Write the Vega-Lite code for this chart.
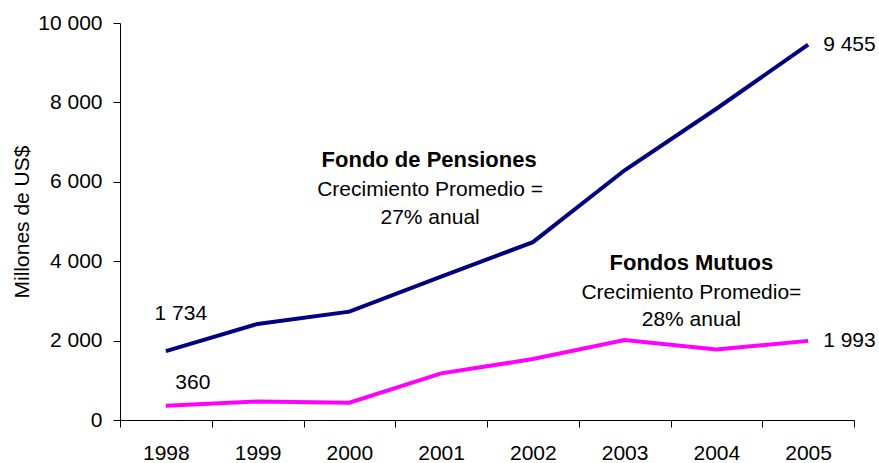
{
  "$schema": "https://vega.github.io/schema/vega-lite/v6.json",
  "width": 734,
  "height": 397,
  "autosize": {"type": "none"},
  "padding": {"left": 120, "top": 23, "right": 25, "bottom": 43},
  "background": "white",
  "config": {
    "view": {"stroke": null},
    "font": "Liberation Sans",
    "axis": {
      "labelFont": "Liberation Sans",
      "titleFont": "Liberation Sans",
      "labelFontSize": 21,
      "titleFontSize": 21,
      "titleFontWeight": "normal",
      "labelColor": "black",
      "titleColor": "black",
      "domainColor": "black",
      "tickColor": "black",
      "grid": false,
      "tickSize": 7
    },
    "text": {"font": "Liberation Sans", "fontSize": 21, "color": "black"}
  },
  "datasets": {
    "series": [
      {"series": "Fondo de Pensiones", "year": "1998", "value": 1734},
      {"series": "Fondo de Pensiones", "year": "1999", "value": 2420},
      {"series": "Fondo de Pensiones", "year": "2000", "value": 2730},
      {"series": "Fondo de Pensiones", "year": "2001", "value": 3610},
      {"series": "Fondo de Pensiones", "year": "2002", "value": 4480},
      {"series": "Fondo de Pensiones", "year": "2003", "value": 6290},
      {"series": "Fondo de Pensiones", "year": "2004", "value": 7840},
      {"series": "Fondo de Pensiones", "year": "2005", "value": 9455},
      {"series": "Fondos Mutuos", "year": "1998", "value": 360},
      {"series": "Fondos Mutuos", "year": "1999", "value": 465},
      {"series": "Fondos Mutuos", "year": "2000", "value": 435},
      {"series": "Fondos Mutuos", "year": "2001", "value": 1175},
      {"series": "Fondos Mutuos", "year": "2002", "value": 1535},
      {"series": "Fondos Mutuos", "year": "2003", "value": 2015},
      {"series": "Fondos Mutuos", "year": "2004", "value": 1775},
      {"series": "Fondos Mutuos", "year": "2005", "value": 1993}
    ],
    "endLabels": [
      {"year": "2005", "value": 9455, "label": "9 455"},
      {"year": "2005", "value": 1993, "label": "1 993"}
    ],
    "notesBold": [
      {"year": "2001", "value": 6550, "text": "Fondo de Pensiones", "group": "p"},
      {"year": "2004", "value": 3955, "text": "Fondos Mutuos", "group": "m"}
    ],
    "notes": [
      {"year": "2001", "value": 5795, "text": "Crecimiento Promedio =", "group": "p"},
      {"year": "2001", "value": 5090, "text": "27% anual", "group": "p"},
      {"year": "2004", "value": 3200, "text": "Crecimiento Promedio=", "group": "m"},
      {"year": "2004", "value": 2520, "text": "28% anual", "group": "m"}
    ]
  },
  "encoding": {
    "x": {
      "field": "year",
      "type": "ordinal",
      "scale": {"type": "band", "paddingInner": 0, "paddingOuter": 0, "domain": ["1998","1999","2000","2001","2002","2003","2004","2005"]},
      "axis": {"title": null, "labelAngle": 0, "tickBand": "extent", "labelPadding": 15}
    },
    "y": {
      "field": "value",
      "type": "quantitative",
      "scale": {"domain": [0, 10000], "nice": false},
      "axis": {
        "title": "Millones de US$",
        "values": [0, 2000, 4000, 6000, 8000, 10000],
        "labelExpr": "replace(format(datum.value, ','), ',', ' ')",
        "labelPadding": 11,
        "titlePadding": 5
      }
    }
  },
  "layer": [
    {
      "data": {"name": "series"},
      "mark": {"type": "line", "strokeWidth": 4},
      "encoding": {
        "color": {
          "field": "series",
          "type": "nominal",
          "scale": {"domain": ["Fondo de Pensiones", "Fondos Mutuos"], "range": ["#000080", "#FF00FF"]},
          "legend": null
        }
      }
    },
    {
      "data": {"name": "endLabels"},
      "mark": {"type": "text", "align": "left", "baseline": "middle", "dx": 15},
      "encoding": {"text": {"field": "label"}}
    },
    {
      "data": {"values": [{"year": "1998", "value": 1734, "label": "1 734"}]},
      "mark": {"type": "text", "align": "center", "baseline": "middle", "dx": 15, "dy": -37},
      "encoding": {"text": {"field": "label"}}
    },
    {
      "data": {"values": [{"year": "1998", "value": 360, "label": "360"}]},
      "mark": {"type": "text", "align": "center", "baseline": "middle", "dx": 27, "dy": -23},
      "encoding": {"text": {"field": "label"}}
    },
    {
      "data": {"name": "notesBold"},
      "transform": [{"filter": "datum.group == 'p'"}],
      "mark": {"type": "text", "align": "center", "baseline": "middle", "fontWeight": "bold", "fontSize": 22, "dx": -12},
      "encoding": {"text": {"field": "text"}}
    },
    {
      "data": {"name": "notesBold"},
      "transform": [{"filter": "datum.group == 'm'"}],
      "mark": {"type": "text", "align": "center", "baseline": "middle", "fontWeight": "bold", "fontSize": 22, "dx": -25},
      "encoding": {"text": {"field": "text"}}
    },
    {
      "data": {"name": "notes"},
      "transform": [{"filter": "datum.group == 'p'"}],
      "mark": {"type": "text", "align": "center", "baseline": "middle", "dx": -11},
      "encoding": {"text": {"field": "text"}}
    },
    {
      "data": {"name": "notes"},
      "transform": [{"filter": "datum.group == 'm'"}],
      "mark": {"type": "text", "align": "center", "baseline": "middle", "dx": -25},
      "encoding": {"text": {"field": "text"}}
    }
  ]
}
